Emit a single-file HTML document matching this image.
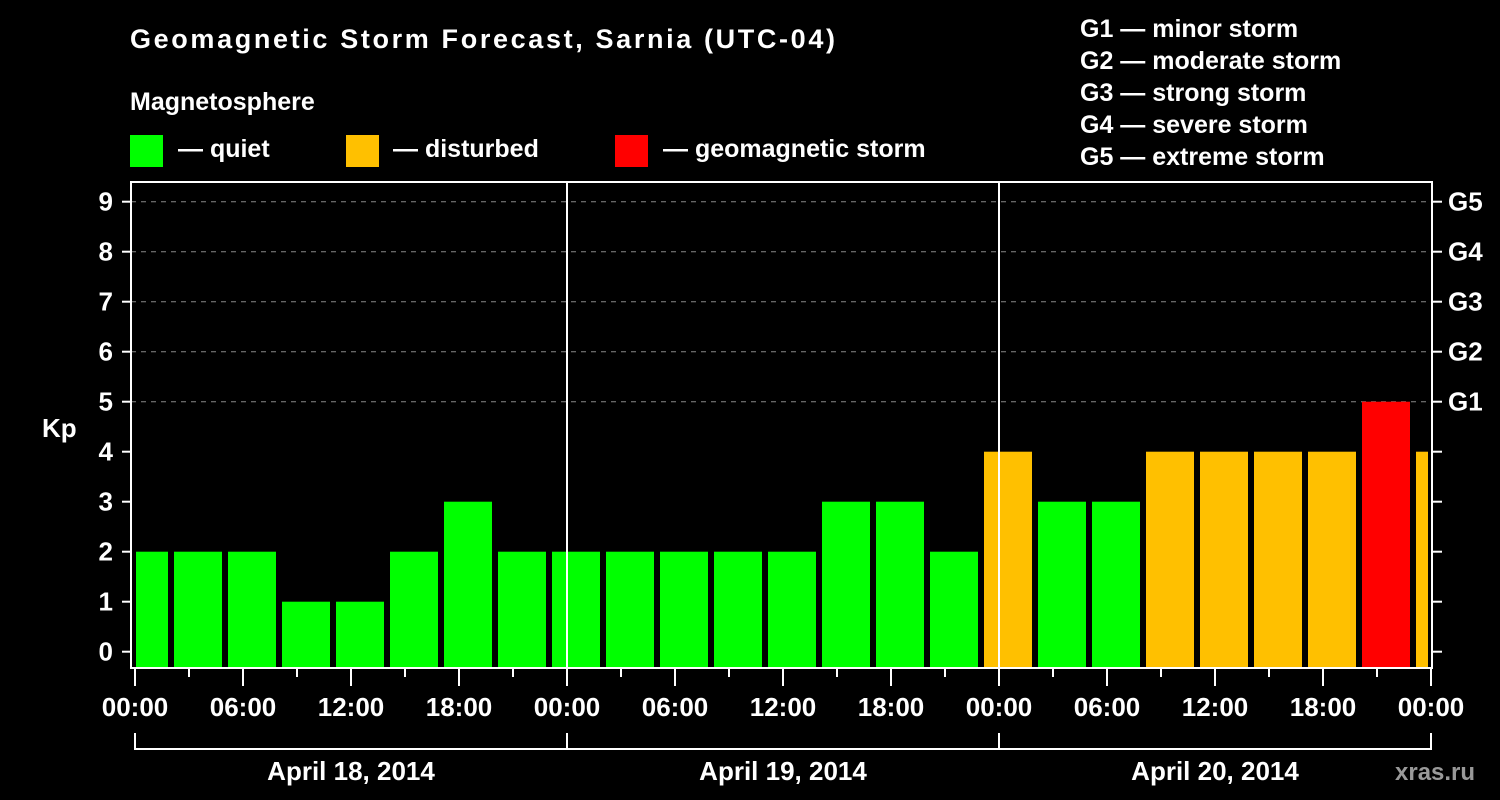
<!DOCTYPE html>
<html><head><meta charset="utf-8"><style>
html,body{margin:0;padding:0;background:#000;}
svg{display:block;font-family:"Liberation Sans",Arial,sans-serif;font-weight:bold;}
</style></head><body>
<svg id="chart" width="1500" height="800" viewBox="0 0 1500 800" xmlns="http://www.w3.org/2000/svg">
<rect width="1500" height="800" fill="#000"/>
<text x="130" y="48" fill="#fff" font-size="27" textLength="705">Geomagnetic Storm Forecast, Sarnia (UTC-04)</text>
<text x="130" y="110" fill="#fff" font-size="25">Magnetosphere</text>
<g><rect x="130" y="135" width="33" height="32" fill="#00ff00"/><text x="178" y="157" fill="#fff" font-size="25">— quiet</text></g>
<g><rect x="346" y="135" width="33" height="32" fill="#ffc000"/><text x="393" y="157" fill="#fff" font-size="25">— disturbed</text></g>
<g><rect x="615" y="135" width="33" height="32" fill="#ff0000"/><text x="663" y="157" fill="#fff" font-size="25">— geomagnetic storm</text></g>
<g fill="#fff" font-size="25">
<text x="1080" y="37">G1 — minor storm</text>
<text x="1080" y="69">G2 — moderate storm</text>
<text x="1080" y="101">G3 — strong storm</text>
<text x="1080" y="133">G4 — severe storm</text>
<text x="1080" y="165">G5 — extreme storm</text>
</g>
<text x="42" y="437" fill="#fff" font-size="26">Kp</text>
<g id="grid"></g>
<defs><clipPath id="plotclip"><rect x="136" y="182" width="1292" height="486"/></clipPath></defs>
<g id="bars" clip-path="url(#plotclip)"></g>
<g id="axes"></g>
<text x="1395" y="780" fill="#999" font-size="24">xras.ru</text>
</svg>
<script>
const kpValues = [2,2,2,1,1,2,3,2, 2,2,2,2,2,3,3,2, 4,3,3,4,4,4,4,5,4];
const yTicks = [0,1,2,3,4,5,6,7,8,9];
const gLabels = ['G1','G2','G3','G4','G5'];
const gLevels = [5,6,7,8,9];
const timeLabels = ['00:00','06:00','12:00','18:00','00:00','06:00','12:00','18:00','00:00','06:00','12:00','18:00','00:00'];
const dayLabels = ['April 18, 2014','April 19, 2014','April 20, 2014'];

const NS='http://www.w3.org/2000/svg';
const X0=135, DAYW=432, Y0=651.7, UNIT=50, LEFT=131, RIGHT=1432, TOP=182, BOT=668;
const xHour = h => X0 + h*DAYW/24;
const yKp = v => Y0 - v*UNIT;
function mk(tag, attrs, parent, text){const e=document.createElementNS(NS,tag);for(const k in attrs)e.setAttribute(k,attrs[k]);if(text!==undefined)e.textContent=text;parent.appendChild(e);return e;}
const grid=document.getElementById('grid'), bars=document.getElementById('bars'), axes=document.getElementById('axes');

yTicks.forEach(v=>{
  if(v>=5){
    const l=mk('line',{x1:LEFT,x2:RIGHT,y1:yKp(v),y2:yKp(v),stroke:'#888','stroke-dasharray':'5,5','stroke-width':1},grid);
    
    
  }
  const t=mk('text',{x:113,y:yKp(v)+9,fill:'#fff','font-size':26,'text-anchor':'end'},axes,String(v));
  
  
  mk('line',{x1:122,x2:LEFT,y1:yKp(v),y2:yKp(v),stroke:'#fff','stroke-width':2},axes);
  mk('line',{x1:RIGHT,x2:1442,y1:yKp(v),y2:yKp(v),stroke:'#fff','stroke-width':2},axes);
});
gLabels.forEach((g,i)=>{
  const t=mk('text',{x:1448,y:yKp(gLevels[i])+9,fill:'#fff','font-size':26},axes,g);
  
  
});

kpValues.forEach((v,i)=>{
  const c=xHour(3*i+0.5);
  const col = v>=5?'#ff0000':(v>=4?'#ffc000':'#00ff00');
  const r=mk('rect',{x:c-24+27*0,y:yKp(v),width:48,height:BOT-yKp(v),fill:col},bars);
  r.setAttribute('x', xHour(3*i) - 15);
  
  
});

// frame
const fr=mk('rect',{x:LEFT,y:TOP,width:RIGHT-LEFT,height:BOT-TOP,fill:'none',stroke:'#fff','stroke-width':2},axes);


[1,2].forEach(d=>{
  const l=mk('line',{x1:X0+d*DAYW,x2:X0+d*DAYW,y1:TOP,y2:BOT,stroke:'#fff','stroke-width':2},axes);
  
  
});
for(let h=0;h<=72;h+=3){
  const major=h%6===0;
  mk('line',{x1:xHour(h),x2:xHour(h),y1:BOT,y2:major?686:677,stroke:'#fff','stroke-width':2},axes);
}
timeLabels.forEach((s,i)=>{
  const t=mk('text',{x:xHour(6*i),y:716,fill:'#fff','font-size':26,'text-anchor':'middle'},axes,s);
  
  
});
const br=mk('line',{x1:X0,x2:X0+3*DAYW,y1:749,y2:749,stroke:'#fff','stroke-width':2},axes);


for(let d=0;d<=3;d++) mk('line',{x1:X0+d*DAYW,x2:X0+d*DAYW,y1:733,y2:750,stroke:'#fff','stroke-width':2},axes);
dayLabels.forEach((s,i)=>{
  const t=mk('text',{x:X0+(i+0.5)*DAYW,y:780,fill:'#fff','font-size':26,'text-anchor':'middle'},axes,s);
  
  
});
</script>
</body></html>
